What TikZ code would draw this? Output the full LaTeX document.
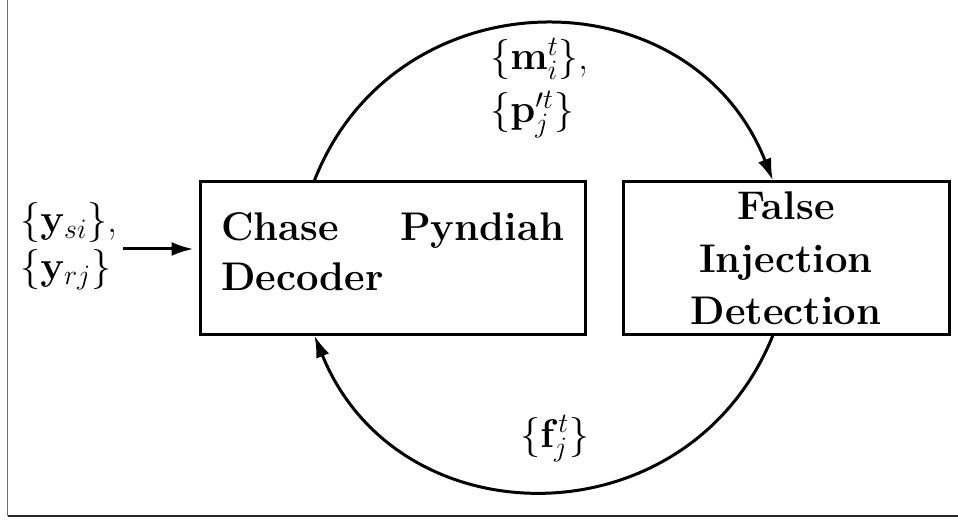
\documentclass[tikz,border=0pt]{standalone}
\usepackage{fix-cm}
\usetikzlibrary{arrows.meta,calc}
\newcommand\bigfnt{\fontsize{20}{25}\selectfont}
\tikzset{
  blk/.style={draw, line width=1.5pt, inner sep=0pt, minimum height=76pt},
  conn/.style={line width=1.5pt, -{Latex[length=11pt,width=7pt]}},
  lbl/.style={inner sep=0pt, anchor=base west, font=\bigfnt},
  frame/.style={line width=0.75pt},
}
\begin{document}
\begin{tikzpicture}[x=0.5pt,y=0.5pt]
\useasboundingbox (0,0) rectangle (958,520);
% frame
\draw[frame, black!55] (7.5,520) -- (7.5,4);
\draw[frame, black!85] (7.5,4) -- (958,4);
% blocks
\node[blk, minimum width=192.5pt] (cpd) at (392.5,262)
  {\parbox[c][76pt][t]{171.5pt}{\bigfnt\bfseries\vspace*{15.1pt}Chase\hfill Pyndiah\\Decoder}};
\node[blk, minimum width=163pt] (fid) at (786,262)
  {\parbox[c][76pt][t]{150pt}{\fontsize{20}{26.25}\selectfont\bfseries\centering\vspace*{5.1pt}False\\Injection\\Detection}};
% labels
\node[lbl] (ysi) at (20,287) {$\{\mathbf{y}_{si}\}$,};
\node[lbl] (yrj) at (20,241) {$\{\mathbf{y}_{rj}\}$};
\node[lbl] (mlab) at (490,450) {$\{\mathbf{m}_i^t\}$,};
\node[lbl] (plab) at (490,397) {$\{\mathbf{p}'^t_j\}$};
\node[lbl] (flab) at (520,73) {$\{\mathbf{f}_j^t\}$};
% connector end points
\coordinate (ain) at (123,271);
\coordinate (a1) at ($(cpd.north west)!0.2987!(cpd.north east)$);
\coordinate (a2) at ($(cpd.south west)!0.2987!(cpd.south east)$);
\coordinate (b1) at ($(fid.north west)!0.460!(fid.north east)$);
\coordinate (b2) at ($(fid.south west)!0.460!(fid.south east)$);
% connectors
\draw[conn, shorten >=2.5pt] (ain) -- (ain -| cpd.west);
\draw[conn] (a1) to[out=68.6, in=111.4, looseness=1.25] (b1);
\draw[conn] (b2) to[out=248, in=292, looseness=1.25] (a2);
\end{tikzpicture}
\end{document}
